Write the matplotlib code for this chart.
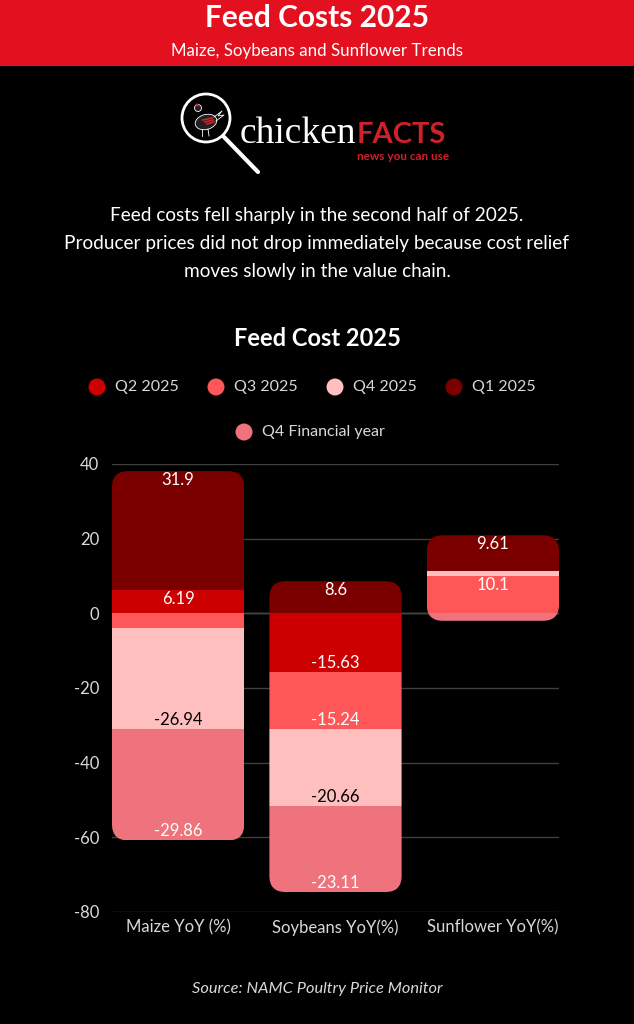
import numpy as np
import matplotlib.pyplot as plt
from matplotlib.patches import Circle, Ellipse, FancyBboxPatch, Rectangle

plt.rcParams['font.family'] = ['Lato', 'DejaVu Sans']
plt.rcParams['axes.unicode_minus'] = False

# ---- data ----
categories = ['Maize YoY (%)', 'Soybeans YoY(%)', 'Sunflower YoY(%)']
series_names = ['Q2 2025', 'Q3 2025', 'Q4 2025', 'Q1 2025', 'Q4 Financial year']
q2_2025 = [6.19, -15.63, 0.0]
q3_2025 = [-4.02, -15.24, 10.1]
q4_2025 = [-26.94, -20.66, 1.2]
q1_2025 = [31.9, 8.6, 9.61]
q4_fin_year = [-29.86, -23.11, -2.0]
series_values = [q2_2025, q3_2025, q4_2025, q1_2025, q4_fin_year]
series_colors = ['#CC0000', '#FF5757', '#FFBFBF', '#7A0000', '#EE737D']
label_colors = ['white', 'white', 'black', 'white', 'white']
y_ticks = [40, 20, 0, -20, -40, -60, -80]

title = 'Feed Costs 2025'
subtitle = 'Maize, Soybeans and Sunflower Trends'
body = ['Feed costs fell sharply in the second half of 2025.',
        'Producer prices did not drop immediately because cost relief',
        'moves slowly in the value chain.']
chart_title = 'Feed Cost 2025'
source = 'Source: NAMC Poultry Price Monitor'

W, H = 634, 1024
TXT = '#D9D9D9'
RED = '#E3101F'
LOGO_RED = '#D0202A'

fig = plt.figure(figsize=(W / 100, H / 100), dpi=100, facecolor='black')

# ---- overlay in pixel coordinates for the poster parts ----
deco = fig.add_axes([0, 0, 1, 1], zorder=0)
deco.set_xlim(0, W)
deco.set_ylim(H, 0)
deco.axis('off')

deco.add_patch(Rectangle((0, 0), W, 66, color=RED, lw=0))
deco.text(W / 2, 18, title, color='white', fontsize=21.5, fontweight='bold',
          ha='center', va='center')
deco.text(W / 2, 51, subtitle, color='white', fontsize=12.2,
          ha='center', va='center')

# logo: magnifier with a chicken
deco.add_patch(Circle((206, 118), 24, fill=False, ec='white', lw=2.0))
deco.plot([224, 258], [137, 172], color='white', lw=3, solid_capstyle='round')
deco.add_patch(Ellipse((206, 122), 22, 15, angle=-15, fc='#202020', ec='white', lw=0.6))
deco.add_patch(Circle((198, 108), 3.5, fc='#202020', ec='white', lw=0.6))
deco.add_patch(Circle((197, 105), 1.5, color=LOGO_RED, lw=0))
deco.plot([214, 222, 218, 224, 216], [117, 111, 116, 115, 121], color='white', lw=0.6)
deco.plot([202, 202], [129, 136], color='white', lw=0.6)
deco.plot([208, 209], [129, 136], color='white', lw=0.6)
for k in range(3):
    deco.plot([203 + 2 * k, 212 + k], [120 + 2 * k, 118 + 2 * k], color=LOGO_RED, lw=1.2)
deco.text(240, 143, 'chicken', color='white', fontsize=27, family='Liberation Serif',
          ha='left', va='baseline')
deco.text(357, 143, 'FACTS', color=LOGO_RED, fontsize=21, fontweight='bold',
          ha='left', va='baseline')
deco.text(449, 156, 'news you can use', color=LOGO_RED, fontsize=8.5, fontweight='bold',
          ha='right', va='center')

for i, line in enumerate(body):
    deco.text(W / 2, 215 + 28.5 * i, line, color='white', fontsize=13.7,
              ha='center', va='center')
deco.text(W / 2, 339, chart_title, color='white', fontsize=17, fontweight='bold',
          ha='center', va='center')

# legend (two centred rows, like the original)
leg_pos = [(97, 387), (216, 387), (335, 387), (454, 387), (244, 432)]
for (lx, ly), name, col in zip(leg_pos, series_names, series_colors):
    deco.add_patch(Circle((lx, ly), 8.5, color=col, lw=0))
    deco.text(lx + 18, ly, name, color=TXT, fontsize=11.5, ha='left', va='center')

deco.text(W / 2, 989, source, color=TXT, fontsize=11.8, style='italic',
          ha='center', va='center')

# ---- stacked bar chart ----
ax = fig.add_axes([112 / W, 1 - 912 / H, (559 - 112) / W, (912 - 464) / H], zorder=1)
ax.set_facecolor('none')
x = np.arange(len(categories))
width = 0.84
pos_base = np.zeros(len(categories))
neg_base = np.zeros(len(categories))
seg_bars = []
for vals, col, lcol in zip(series_values, series_colors, label_colors):
    vals = np.array(vals)
    bottoms = np.where(vals >= 0, pos_base, neg_base)
    bars = ax.bar(x, vals, width, bottom=bottoms, color=col, lw=0, zorder=3)
    seg_bars.append(bars)
    for xi, v, b in zip(x, vals, bottoms):
        if abs(v) < 5:
            continue
        end = b + v
        off = -6.5 if v > 0 else 6.5
        ax.annotate(f'{v:g}', (xi, end), xytext=(0, off), textcoords='offset points',
                    ha='center', va='center', color=lcol, fontsize=12, zorder=5)
    pos_base = pos_base + np.clip(vals, 0, None)
    neg_base = neg_base + np.clip(vals, None, 0)

# rounded outline of each whole stack, used as clip path
px_per_x = (559 - 112) / (2 * 0.42 + 2)
px_per_y = (912 - 464) / 120
r_px = 16
for i in range(len(categories)):
    box = FancyBboxPatch((x[i] - width / 2, neg_base[i]), width, pos_base[i] - neg_base[i],
                         boxstyle=f'round,pad=0,rounding_size={r_px / px_per_x}',
                         mutation_aspect=px_per_x / px_per_y,
                         transform=ax.transData, fc='none', ec='none')
    ax.add_patch(box)
    for bars in seg_bars:
        bars[i].set_clip_path(box)

ax.set_xlim(-0.42, 2.42)
ax.set_ylim(-80, 40)
ax.set_yticks(y_ticks)
ax.set_xticks(x)
ax.set_xticklabels(categories)
ax.tick_params(length=0, colors=TXT, labelsize=12)
ax.tick_params(axis='y', pad=9)
ax.tick_params(axis='x', pad=5)
ax.yaxis.grid(True, color='#3F3F3F', lw=1, zorder=0)
ax.axhline(0, color='#808080', lw=1, zorder=1)
for s in ax.spines.values():
    s.set_visible(False)

fig.savefig('out.png', dpi=100, facecolor='black')
